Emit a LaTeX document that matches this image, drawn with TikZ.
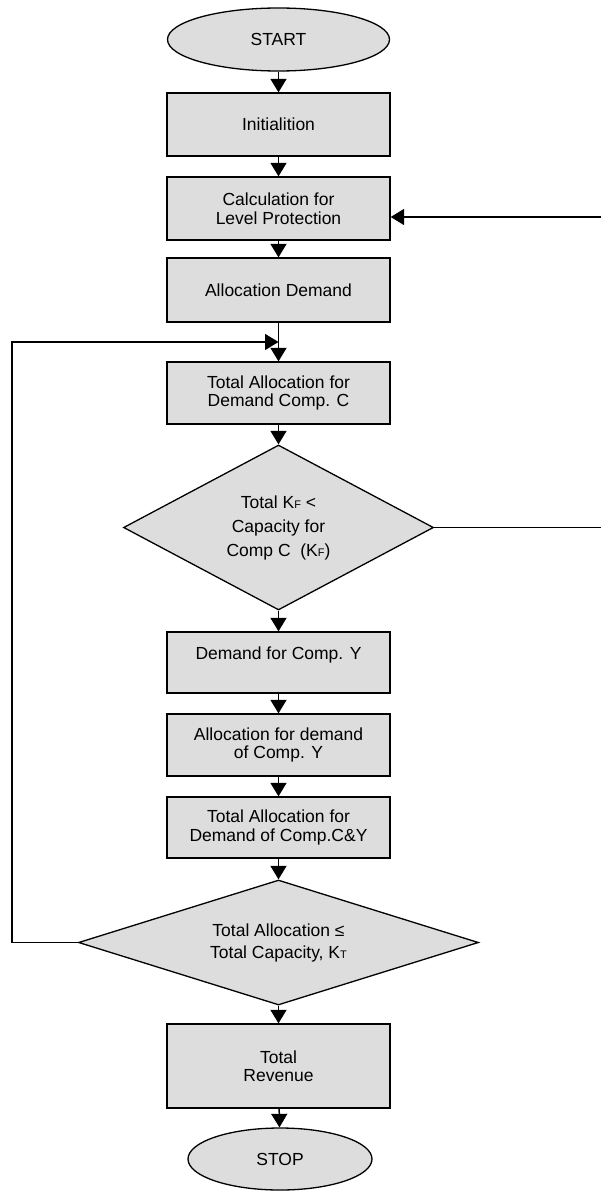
\documentclass[tikz,border=0pt]{standalone}
\usepackage{fontspec}
\setmainfont{Liberation Sans}
\usetikzlibrary{shapes.geometric,arrows.meta}
\definecolor{boxfill}{HTML}{DDDDDD}
\newcommand{\sbF}[1]{\raisebox{-0.5pt}{\fontsize{11}{11}\selectfont #1}}
\begin{document}
\begin{tikzpicture}[x=1pt,y=-1pt,
  every node/.style={font=\fontsize{17.5}{18.5}\selectfont, align=center, inner sep=0pt},
  procbox/.style={draw, line width=1.3pt, fill=boxfill, rectangle, minimum width=223pt},
  term/.style={draw, line width=1.3pt, fill=boxfill, ellipse},
  decide/.style={draw, line width=1.3pt, fill=boxfill, diamond},
  conn/.style={line width=1.5pt},
  arr/.style={conn, -{Triangle[width=16pt,length=13.5pt]}}]
\useasboundingbox (0,0) rectangle (601,1191);
\node[term, minimum width=222pt, minimum height=63pt] (start) at (278.5,39.5) {START};
\node[procbox, minimum height=63pt] (init) at (278.5,124.5) {Initialition};
\node[procbox, minimum height=63pt] (calc) at (278.5,208.5) {Calculation for\\Level Protection};
\node[procbox, minimum height=64pt] (alloc) at (278.5,290) {Allocation Demand};
\node[procbox, minimum height=62pt] (tac) at (278.5,393) {Total Allocation for\\Demand Comp. C};
\node[decide, shape aspect=1.88, minimum width=310pt, minimum height=165pt, font=\fontsize{17.5}{24}\selectfont] (d1) at (278.5,527.5)
  {Total K\sbF{F} <\\Capacity for\\Comp C\ \ (K\sbF{F})};
\node[procbox, minimum height=61pt] (dy) at (278.5,662.5) {Demand for Comp. Y\\\mbox{}};
\node[procbox, minimum height=62pt] (ay) at (278.5,745) {Allocation for demand\\of Comp. Y};
\node[procbox, minimum height=61pt] (tacy) at (278.5,827.5) {Total Allocation for\\Demand of Comp.C\&Y};
\node[decide, shape aspect=3.2, minimum width=400pt, minimum height=125pt, font=\fontsize{17.5}{22}\selectfont] (d2) at (278.5,942.5)
  {Total Allocation ≤\\Total Capacity, K\sbF{T}};
\node[procbox, minimum height=84pt] (rev) at (278.5,1066) {Total\\Revenue};
\node[term, minimum width=184pt, minimum height=62pt] (stop) at (280,1159) {STOP};

\coordinate (r1) at (602,217);
\coordinate (r2) at (602,527.5);
\coordinate (l1) at (12,942.5);
\coordinate (l2) at (12,342);
\coordinate (m) at (278.5,342);

\draw[arr] (start) -- (init);
\draw[arr] (init) -- (calc);
\draw[arr] (calc) -- (alloc);
\draw[arr] (alloc) -- (tac);
\draw[arr] (tac) -- (d1);
\draw[arr] (d1) -- (dy);
\draw[arr] (dy) -- (ay);
\draw[arr] (ay) -- (tacy);
\draw[arr] (tacy) -- (d2);
\draw[arr] (d2) -- (rev);
\draw[arr] (rev) -- (stop);
\draw[arr] (r1) -- (r1 -| calc.east);
\draw[conn] (d1.east) -- (r2);
\draw[arr] (d2.west) -- (l1) -- (l2) -- (m);
\end{tikzpicture}
\end{document}
